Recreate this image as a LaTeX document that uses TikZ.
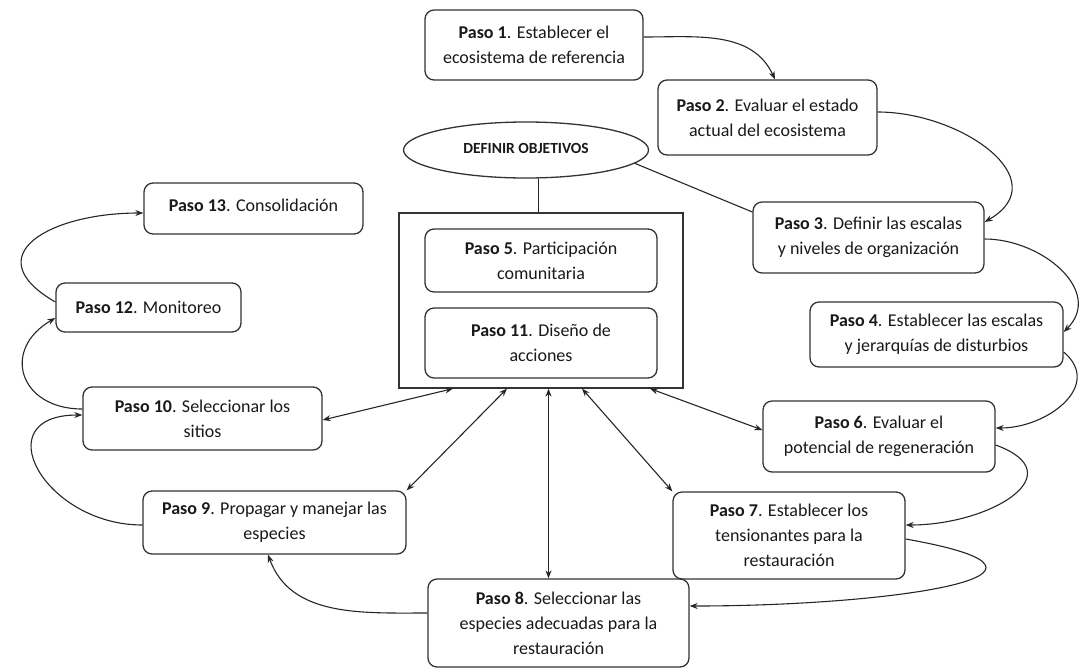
\documentclass[tikz,border=0pt]{standalone}
\usepackage{fontspec}
\setmainfont{Carlito}
\usetikzlibrary{arrows.meta}
\usetikzlibrary{shapes.geometric}

\begin{document}
\begin{tikzpicture}[x=1pt,y=-1pt,
  paso/.style={draw=black!80,line width=1.3pt,rounded corners=9pt,align=center,inner sep=0pt,
    font=\fontsize{18}{25}\selectfont,text=black!90},
  flecha/.style={draw=black!85,line width=1.1pt,-{Stealth[length=8pt,width=6pt]}},
  doble/.style={draw=black!85,line width=1.1pt,{Stealth[length=8pt,width=6pt]}-{Stealth[length=8pt,width=6pt]}}]
\useasboundingbox (0,0) rectangle (1083,670);

% objetivo y marco central
\node[ellipse,draw=black!80,line width=1.3pt,minimum width=245pt,minimum height=56pt,inner sep=0pt,
  font=\fontsize{15.5}{18}\selectfont\bfseries,text=black!90] (obj) at (526,150) {\raisebox{4pt}{DEFINIR OBJETIVOS}};
\node[draw=black!80,line width=1.2pt,minimum width=284pt,minimum height=175pt] (marco) at (541,300.5) {};
\node[paso,minimum width=232pt,minimum height=63pt] (p5) at (541,260.5) {\textbf{Paso 5}. Participación\\comunitaria};
\node[paso,minimum width=232pt,minimum height=70pt] (p11) at (541,343) {\textbf{Paso 11}. Diseño de\\acciones};

% pasos alrededor
\node[paso,minimum width=218pt,minimum height=70pt] (p1) at (534,45) {\textbf{Paso 1}. Establecer el\\ecosistema de referencia};
\node[paso,minimum width=219pt,minimum height=75pt] (p2) at (767.5,117.5) {\textbf{Paso 2}. Evaluar el estado\\actual del ecosistema};
\node[paso,minimum width=231pt,minimum height=71pt] (p3) at (868.5,237.5) {\textbf{Paso 3}. Definir las escalas\\y niveles de organización};
\node[paso,minimum width=253pt,minimum height=65pt] (p4) at (936.5,334.5) {\textbf{Paso 4}. Establecer las escalas\\y jerarquías de disturbios};
\node[paso,minimum width=232pt,minimum height=71pt] (p6) at (879,436.5) {\textbf{Paso 6}. Evaluar el\\potencial de regeneración};
\node[paso,minimum width=232pt,minimum height=87pt] (p7) at (789,535.5) {\textbf{Paso 7}. Establecer los\\tensionantes para la\\restauración};
\node[paso,minimum width=261pt,minimum height=88pt] (p8) at (558.5,623) {\textbf{Paso 8}. Seleccionar las\\especies adecuadas para la\\restauración};
\node[paso,minimum width=263pt,minimum height=63pt] (p9) at (274.5,522.5) {\textbf{Paso 9}. Propagar y manejar las\\especies};
\node[paso,minimum width=239pt,minimum height=63pt] (p10) at (202.5,418.5) {\textbf{Paso 10}. Seleccionar los\\sitios};
\node[paso,minimum width=185pt,minimum height=49pt] (p12) at (148.5,307.5) {\textbf{Paso 12}. Monitoreo};
\node[paso,minimum width=219pt,minimum height=51pt] (p13) at (253.5,208.5) {\raisebox{6pt}{\textbf{Paso 13}. Consolidación}};

% lineas del objetivo
\draw[black!85,line width=1.1pt] (obj.-67) -- (obj.-67 |- marco.north);
\draw[black!85,line width=1.1pt] (obj.-7) -- ([yshift=25.5pt]p3.west);

% secuencia de pasos
\draw[flecha] ([yshift=8pt]p1.east) to[out=0,in=115] ([xshift=7.5pt]p2.north);
\draw[flecha] ([yshift=5.5pt]p2.east) to[out=0,in=30,looseness=1.4] ([yshift=15.5pt]p3.east);
\draw[flecha] ([yshift=-1.5pt]p3.east) to[out=0,in=45,looseness=1.2] ([yshift=2.5pt]p4.east);
\draw[flecha] ([yshift=-17.5pt]p4.east) to[out=-40,in=0,looseness=1.3] ([yshift=8.5pt]p6.east);
\draw[flecha] ([yshift=-8.5pt]p6.east) to[out=-20,in=0,looseness=1.8] ([yshift=10.5pt]p7.east);
\draw[flecha] ([yshift=-3.5pt]p7.east) to[out=-10,in=0,looseness=2.3] ([yshift=17pt]p8.east);
\draw[flecha] ([yshift=10pt]p8.west) to[out=180,in=-70] ([xshift=-6.5pt]p9.south);
\draw[flecha] ([yshift=-2.5pt]p9.west) to[out=180,in=180,looseness=2] ([yshift=3.5pt]p10.west);
\draw[flecha] ([yshift=9.5pt]p10.west) to[out=180,in=210,looseness=1.7] ([yshift=-10.5pt]p12.west);
\draw[flecha] ([yshift=5.5pt]p12.west) to[out=150,in=180,looseness=1.9] ([yshift=-4.5pt]p13.west);

% relaciones con el marco central
\draw[doble] ([xshift=-88pt]marco.south) -- ([yshift=-1.5pt]p10.east);
\draw[doble] ([xshift=-34pt]marco.south) -- (p9.north east);
\draw[doble] ([xshift=7.5pt]marco.south) -- ([xshift=7.5pt]marco.south |- p8.north);
\draw[doble] ([xshift=41pt]marco.south) -- (p7.north west);
\draw[doble] ([xshift=109pt]marco.south) -- ([yshift=6.5pt]p6.west);

\end{tikzpicture}
\end{document}
